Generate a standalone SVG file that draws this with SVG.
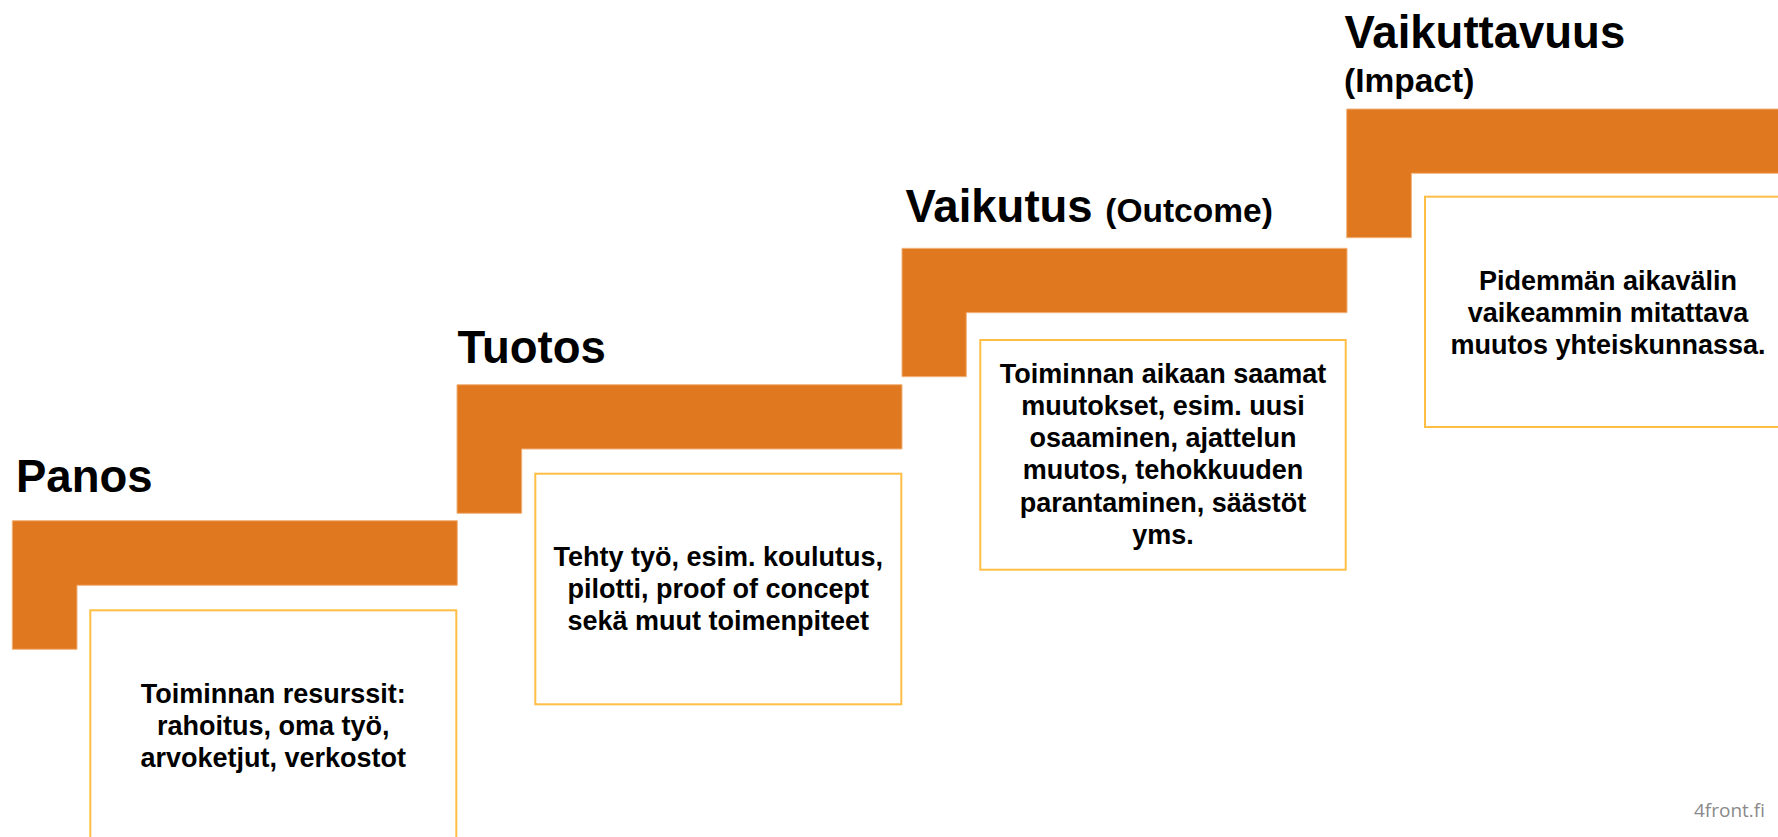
<svg xmlns="http://www.w3.org/2000/svg" width="1778" height="837" viewBox="0 0 1778 837">
<style>
.step{fill:#E0781F;stroke:#F2B27C;stroke-width:1}
.box{fill:#FFFFFF;stroke:#FFBE45;stroke-width:2}
.title{font-family:"Liberation Sans",Arial,sans-serif;font-weight:bold;font-size:45.5px;fill:#000000}
.sub{font-size:33.5px}
.body{font-family:"Liberation Sans",Arial,sans-serif;font-weight:bold;font-size:27px;fill:#000000;text-anchor:middle}
.brand{font-family:"Open Sans","Liberation Sans",sans-serif;font-size:19px;fill:#8A8A8A;text-anchor:end}
</style>
<rect x="0" y="0" width="1778" height="837" fill="#FFFFFF"/>
<g id="connectors"></g>
<g id="panos">
<path class="step" d="M12.3,520.7 h445 v64.6 h-380.3 v64 h-64.7 z"/>
<text class="title" x="16" y="491.5">Panos</text>
<rect class="box" x="90.3" y="610.3" width="366" height="230"/>
<text class="body" y="703.3"><tspan x="273.3">Toiminnan resurssit:</tspan><tspan x="273.3" y="735">rahoitus, oma työ,</tspan><tspan x="273.3" y="766.7">arvoketjut, verkostot</tspan></text>
</g>
<g id="tuotos">
<path class="step" d="M457,384.7 h445 v64.3 h-380.3 v64.3 h-64.7 z"/>
<text class="title" x="457.5" y="362.7">Tuotos</text>
<rect class="box" x="535.3" y="473.7" width="366" height="230.6"/>
<text class="body" y="566.3"><tspan x="718.3">Tehty työ, esim. koulutus,</tspan><tspan x="718.3" y="598">pilotti, proof of concept</tspan><tspan x="718.3" y="629.8">sekä muut toimenpiteet</tspan></text>
</g>
<g id="vaikutus">
<path class="step" d="M902,248.3 h445 v64.4 h-380.7 v64 h-64.3 z"/>
<text class="title" x="905.5" y="221.7">Vaikutus <tspan class="sub">(Outcome)</tspan></text>
<rect class="box" x="980.3" y="340" width="365.4" height="229.7"/>
<text class="body" y="382.7"><tspan x="1163">Toiminnan aikaan saamat</tspan><tspan x="1163" y="414.9">muutokset, esim. uusi</tspan><tspan x="1163" y="447.1">osaaminen, ajattelun</tspan><tspan x="1163" y="479.3">muutos, tehokkuuden</tspan><tspan x="1163" y="511.5">parantaminen, säästöt</tspan><tspan x="1163" y="543.7">yms.</tspan></text>
</g>
<g id="vaikuttavuus">
<path class="step" d="M1346.7,109 h445 v64.3 h-380.3 v64.4 h-64.7 z"/>
<text class="title" x="1344.5" y="48.3">Vaikuttavuus</text>
<text class="title sub" x="1344" y="92.3">(Impact)</text>
<rect class="box" x="1425" y="196.7" width="366" height="230.3"/>
<text class="body" y="290"><tspan x="1608">Pidemmän aikavälin</tspan><tspan x="1608" y="321.9">vaikeammin mitattava</tspan><tspan x="1608" y="353.8">muutos yhteiskunnassa.</tspan></text>
</g>
<g id="brand">
<text class="brand" x="1765" y="816.7">4front.fi</text>
</g>
</svg>
